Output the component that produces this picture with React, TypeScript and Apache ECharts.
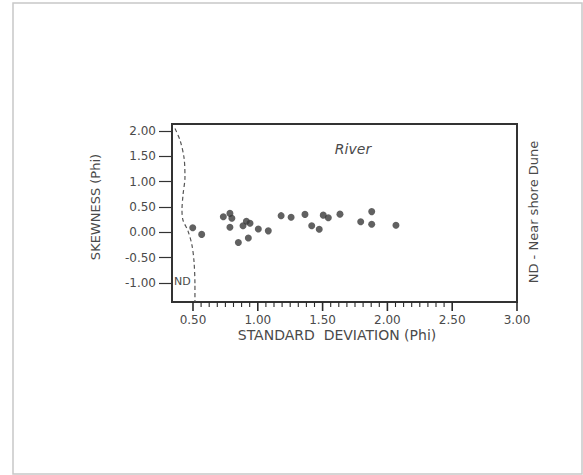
import React, { useEffect, useRef } from "react";
import * as echarts from "echarts";

// River samples: standard deviation (Phi) vs skewness (Phi)
const stdDev = [0.498, 0.567, 0.734, 0.785, 0.8, 0.785, 0.85, 0.927, 0.886, 0.912, 0.94, 1.004, 1.081, 1.18, 1.257, 1.364, 1.416, 1.474, 1.505, 1.544, 1.634, 1.794, 1.879, 1.879, 2.066];
const skewness = [0.09, -0.04, 0.31, 0.375, 0.28, 0.1, -0.2, -0.11, 0.13, 0.22, 0.18, 0.065, 0.03, 0.33, 0.3, 0.355, 0.13, 0.06, 0.34, 0.29, 0.36, 0.21, 0.41, 0.16, 0.14];

// ND (Near shore Dune) boundary curve
const ndX = [0.361, 0.4, 0.431, 0.438, 0.423, 0.415, 0.423, 0.461, 0.492, 0.508, 0.515, 0.515];
const ndY = [2.05, 1.82, 1.47, 1.09, 0.74, 0.44, 0.24, 0.03, -0.25, -0.58, -1.04, -1.37];

// tick labels
const xTicks = [0.5, 1.0, 1.5, 2.0, 2.5, 3.0];
const yTicks = [-1.0, -0.5, 0.0, 0.5, 1.0, 1.5, 2.0];
// minor tick positions along the x axis
const xMinorTicks = [0.5625, 0.625, 0.6875, 0.75, 0.8125, 0.875, 0.9375, 1.0625, 1.125, 1.1875, 1.25, 1.3125, 1.375, 1.4375, 1.5625, 1.625, 1.6875, 1.75, 1.8125, 1.875, 1.9375, 2.0625, 2.125, 2.1875, 2.25, 2.3125, 2.375, 2.4375];

const xMin = 0.338;
const xMax = 3.0;
const yMin = -1.375;
const yMax = 2.14;

const FONT = "DejaVu Sans";
const TXT = "#4a4a4a";

export default function App() {
  const ref = useRef<HTMLDivElement>(null);

  useEffect(() => {
    if (!ref.current) return;
    const chart = echarts.init(ref.current, null, { renderer: "svg" });

    const option: any = {
      animation: false,
      backgroundColor: "#ffffff",
      grid: {
        left: 172,
        top: 124,
        width: 345,
        height: 178,
        show: true,
        borderColor: "#333",
        borderWidth: 2,
        backgroundColor: "transparent",
      },
      xAxis: [
        {
          type: "value",
          min: xMin,
          max: xMax,
          position: "bottom",
          axisLine: { show: true, onZero: false, lineStyle: { color: "#333", width: 2 } },
          axisTick: { show: false },
          axisLabel: {
            show: true,
            customValues: xTicks,
            formatter: (v: number) => v.toFixed(2),
            margin: 12,
            fontSize: 12,
            fontFamily: FONT,
            color: TXT,
          },
          splitLine: { show: false },
        },
        {
          type: "value",
          min: xMin,
          max: xMax,
          position: "top",
          axisLine: { show: false, onZero: false },
          axisTick: { show: false },
          axisLabel: { show: false },
          splitLine: { show: false },
        },
      ],
      yAxis: [
        {
          type: "value",
          min: yMin,
          max: yMax,
          axisLine: { show: true, onZero: false, lineStyle: { color: "#333", width: 2 } },
          axisTick: {
            show: true,
            inside: false,
            length: 13,
            customValues: yTicks,
            lineStyle: { color: "#333", width: 1.2 },
          },
          axisLabel: {
            show: true,
            customValues: yTicks,
            formatter: (v: number) => v.toFixed(2),
            margin: 16,
            fontSize: 12,
            fontFamily: FONT,
            color: TXT,
          },
          splitLine: { show: false },
        },
      ],
      series: [
        {
          type: "line",
          data: ndX.map((x, i) => [x, ndY[i]]),
          smooth: 0.3,
          showSymbol: false,
          symbol: "none",
          lineStyle: { color: "#555", width: 1.2, type: [4, 3] },
          silent: true,
        },
        {
          type: "scatter",
          data: stdDev.map((x, i) => [x, skewness[i]]),
          symbolSize: 7,
          itemStyle: { color: "#3a3a3a" },
        },
        // x-axis tick marks drawn through the axis scale (below the plot box)
        {
          type: "custom",
          silent: true,
          clip: false,
          data: [
            ...xTicks.map((v) => [v, 9]),
            ...xMinorTicks.map((v) => [v, 5]),
          ],
          encode: { x: 0 },
          renderItem: (params: any, api: any) => {
            const p = api.coord([api.value(0), yMin]);
            const len = api.value(1);
            return {
              type: "line",
              shape: { x1: p[0], y1: p[1], x2: p[0], y2: p[1] + len },
              style: { stroke: "#2a2a2a", lineWidth: len > 6 ? 1.6 : 1.1 },
            };
          },
        },
      ],
      graphic: [
        {
          type: "rect",
          silent: true,
          z: -10,
          shape: { x: 13, y: 3, width: 569, height: 471 },
          style: { fill: "none", stroke: "#c8c8c8", lineWidth: 1.5 },
        },
        {
          type: "text",
          x: 95,
          y: 207,
          rotation: Math.PI / 2,
          style: { text: "SKEWNESS (Phi)", fontSize: 13, fontFamily: FONT, fill: TXT, align: "center", verticalAlign: "middle" },
        },
        {
          type: "text",
          x: 337,
          y: 335,
          style: { text: "STANDARD  DEVIATION (Phi)", fontSize: 14, fontFamily: FONT, fill: TXT, align: "center", verticalAlign: "middle" },
        },
        {
          type: "text",
          x: 533,
          y: 212,
          rotation: Math.PI / 2,
          style: { text: "ND - Near shore Dune", fontSize: 13, fontFamily: FONT, fill: TXT, align: "center", verticalAlign: "middle" },
        },
        {
          type: "text",
          x: 353,
          y: 149,
          style: { text: "River", fontSize: 14, fontStyle: "italic", fontFamily: FONT, fill: TXT, align: "center", verticalAlign: "middle" },
        },
        {
          type: "text",
          x: 174,
          y: 281,
          style: { text: "ND", fontSize: 11, fontFamily: FONT, fill: TXT, align: "left", verticalAlign: "middle" },
        },
      ],
    };

    chart.setOption(option);
    return () => chart.dispose();
  }, []);

  return (
    <div
      ref={ref}
      style={{ position: "fixed", left: 0, top: 0, width: 583, height: 475, background: "#fff" }}
    />
  );
}
